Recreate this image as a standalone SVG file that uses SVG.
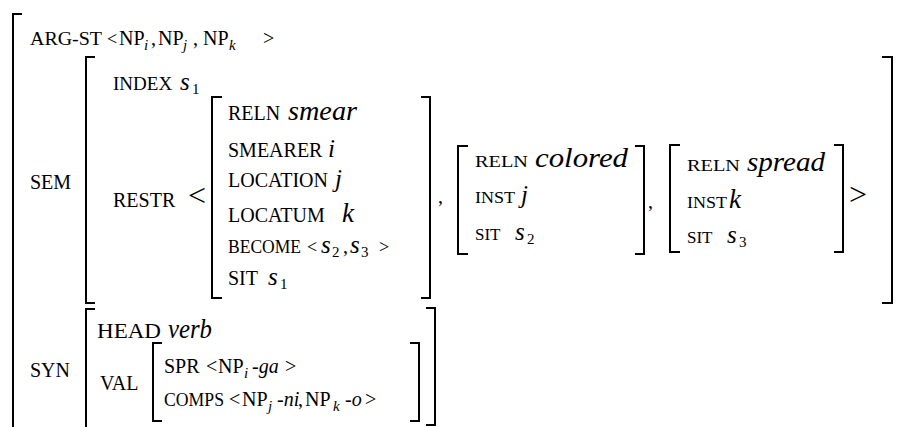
<svg xmlns="http://www.w3.org/2000/svg" width="900" height="427" viewBox="0 0 900 427">
<style>
text{font-family:"Liberation Serif","Times New Roman",serif;font-size:20px;fill:#000}
.i{font-style:italic}
.v{font-style:italic;font-size:25px}
.w{font-style:italic;font-size:27px}
.s{font-style:italic;font-size:15px}
.n{font-size:15px}
.lt{font-size:32px}
.sm{font-size:17px}
.f18{font-size:18px}
.f19{font-size:19px}
.b{fill:none;stroke:#000;stroke-width:2}
</style>
<rect width="900" height="427" fill="#fff"/>
<g id="brackets">
<path class="b" d="M22,14 H13 V430"/>
<path class="b" d="M95,57 H86 V303 H95"/>
<path class="b" d="M882,57 H892 V303 H882"/>
<path class="b" d="M222,97 H212 V298 H222"/>
<path class="b" d="M421,97 H430 V298 H421"/>
<path class="b" d="M468,146 H458 V254 H468"/>
<path class="b" d="M635,146 H644 V254 H635"/>
<path class="b" d="M680,145 H670 V252 H680"/>
<path class="b" d="M834,145 H843 V252 H834"/>
<path class="b" d="M95,309 H86 V430"/>
<path class="b" d="M426,308 H435 V425 H426"/>
<path class="b" d="M162,343 H153 V421 H162"/>
<path class="b" d="M410,343 H419 V421 H410"/>
</g>
<g id="argst">
<text class="f18" x="30" y="45" textLength="72" lengthAdjust="spacingAndGlyphs">ARG-ST</text>
<text class="f18" x="107" y="45">&lt;</text>
<text x="119" y="45">NP</text><text class="s" x="144" y="50">i</text>
<text x="151" y="45">,</text>
<text x="158" y="45">NP</text><text class="s" x="183" y="50">j</text>
<text x="193" y="45">,</text>
<text x="203" y="45">NP</text><text class="s" x="229" y="50">k</text>
<text x="263" y="45">&gt;</text>
</g>
<g id="sem">
<text x="30" y="189">SEM</text>
<text class="f19" x="113" y="90">INDEX</text><text class="v" x="180" y="90">s</text><text class="n" x="192" y="94">1</text>
<text x="113" y="207">RESTR</text>
<text class="lt" x="188" y="206">&lt;</text>
</g>
<g id="smear">
<text x="228" y="120">RELN</text><text class="w" x="288" y="120" textLength="69" lengthAdjust="spacingAndGlyphs">smear</text>
<text x="228" y="157">SMEARER</text><text class="v" x="328" y="157">i</text>
<text x="228" y="187">LOCATION</text><text class="v" x="335" y="187">j</text>
<text x="228" y="222">LOCATUM</text><text class="w" x="342" y="222">k</text>
<text class="f18" x="228" y="253" textLength="73" lengthAdjust="spacingAndGlyphs">BECOME</text><text class="f18" x="307" y="253">&lt;</text>
<text class="v" x="321" y="253">s</text><text class="n" x="332" y="257">2</text>
<text x="343" y="253">,</text>
<text class="v" x="350" y="253">s</text><text class="n" x="361" y="257">3</text>
<text class="f18" x="379" y="253">&gt;</text>
<text x="228" y="285">SIT</text><text class="v" x="268" y="285">s</text><text class="n" x="280" y="289">1</text>
</g>
<text x="438" y="203">,</text>
<g id="colored">
<text class="sm" x="475" y="167" textLength="53" lengthAdjust="spacingAndGlyphs">RELN</text><text class="w" x="535" y="167" textLength="93" lengthAdjust="spacingAndGlyphs">colored</text>
<text class="sm" x="475" y="203" textLength="40" lengthAdjust="spacingAndGlyphs">INST</text><text class="v" x="521" y="203">j</text>
<text class="sm" x="475" y="240">SIT</text><text class="v" x="515" y="240">s</text><text class="n" x="527" y="244">2</text>
</g>
<text x="648" y="208">,</text>
<g id="spread">
<text class="sm" x="687" y="171" textLength="53" lengthAdjust="spacingAndGlyphs">RELN</text><text class="w" x="747" y="171" textLength="78" lengthAdjust="spacingAndGlyphs">spread</text>
<text class="sm" x="687" y="208" textLength="40" lengthAdjust="spacingAndGlyphs">INST</text><text class="w" x="729" y="208">k</text>
<text class="sm" x="687" y="243">SIT</text><text class="v" x="727" y="243">s</text><text class="n" x="739" y="247">3</text>
</g>
<text class="lt" x="849" y="205">&gt;</text>
<g id="syn">
<text x="30" y="377">SYN</text>
<text x="97" y="338" textLength="64" lengthAdjust="spacingAndGlyphs">HEAD</text><text class="w" x="168" y="338" textLength="44" lengthAdjust="spacingAndGlyphs">verb</text>
<text x="100" y="390">VAL</text>
</g>
<g id="val">
<text x="164" y="373">SPR</text><text x="206" y="373">&lt;</text>
<text x="218" y="373">NP</text><text class="s" x="244" y="378">i</text>
<text class="i" x="252" y="373">-ga</text><text x="285" y="373">&gt;</text>
<text class="f18" x="164" y="406" textLength="60" lengthAdjust="spacingAndGlyphs">COMPS</text><text x="229" y="406">&lt;</text>
<text x="242" y="406">NP</text><text class="s" x="268" y="411">j</text>
<text class="i" x="277" y="406">-ni</text><text x="298" y="406">,</text>
<text x="305" y="406">NP</text><text class="s" x="333" y="411">k</text>
<text class="i" x="345" y="406">-o</text><text x="365" y="406">&gt;</text>
</g>
</svg>
